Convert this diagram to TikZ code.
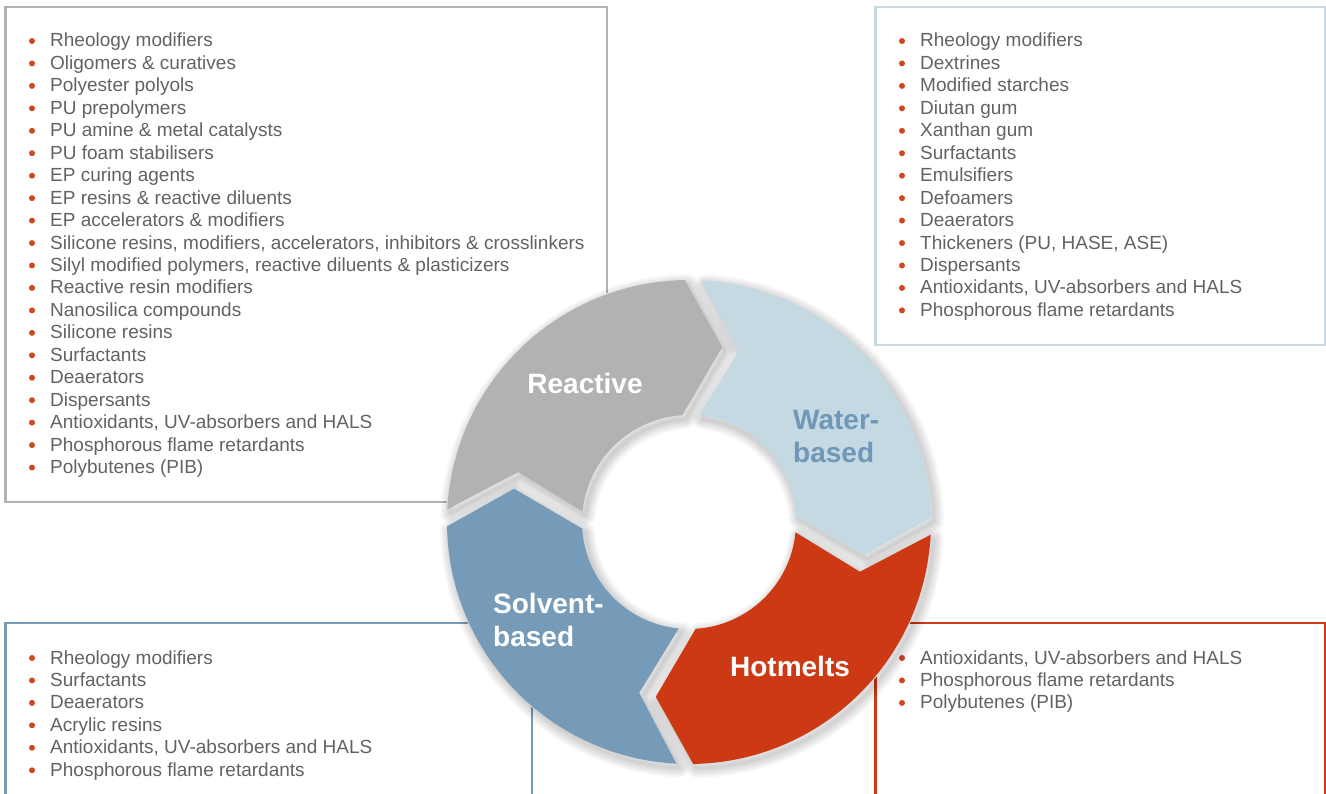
\documentclass[tikz,border=0pt]{standalone}
\usepackage{xcolor}
\usepackage{fontspec}
\setmainfont{Liberation Sans}
\usepackage{tikz}

% one ring segment, tail at angle #1, head 90 degrees further clockwise
\newcommand{\ringseg}[1]{({#1-2.01}:242) arc[start angle={#1-2.01}, end angle={#1-87.99}, radius=242]
  -- ({#1-99.76}:178) -- ({#1-85.45}:107)
  arc[start angle={#1-85.45}, end angle={#1-4.55}, radius=107]
  -- ({#1-15.24}:178) -- cycle}

\begin{document}
\begin{tikzpicture}[x=1pt, y=-1pt, font=\fontsize{19}{22.45}\selectfont,
  item/.style={anchor=base west, inner sep=0pt, text=txtGray},
  dot/.style={circle, fill=dotRed, inner sep=0pt, minimum size=6pt},
  tag/.style={font=\fontsize{28}{33}\selectfont\bfseries, inner sep=0pt, align=left, text=white},
  listbox/.style={line width=2.6pt}]

\definecolor{reactGray}{HTML}{B1B2B4}
\definecolor{waterBlue}{HTML}{C5D9E3}
\definecolor{solvBlue}{HTML}{769BB8}
\definecolor{hotRed}{HTML}{CC3914}
\definecolor{labelBlue}{HTML}{6F97B8}
\definecolor{txtGray}{HTML}{626262}
\definecolor{dotRed}{HTML}{D0461E}

\useasboundingbox (0,0) rectangle (1326,794);

% boxes
\draw[listbox, reactGray] (5.5,7) rectangle (607,502);
\draw[listbox, waterBlue] (875.5,7) rectangle (1325,345);
\draw[listbox, solvBlue]  (5.5,623) rectangle (532,830);
\draw[listbox, hotRed]    (875.5,623) rectangle (1325,830);

% ===== Reactive list =====
\foreach \t [count=\i] in {Rheology modifiers, Oligomers \& curatives, Polyester polyols,
  PU prepolymers, PU amine \& metal catalysts, PU foam stabilisers, EP curing agents,
  EP resins \& reactive diluents, EP accelerators \& modifiers,
  {Silicone resins, modifiers, accelerators, inhibitors \& crosslinkers},
  {Silyl modified polymers, reactive diluents \& plasticizers}, Reactive resin modifiers,
  Nanosilica compounds, Silicone resins, Surfactants, Deaerators, Dispersants,
  {Antioxidants, UV-absorbers and HALS}, Phosphorous flame retardants, Polybutenes (PIB)}
{
  \node[item] (react\i) at (50, {47+(\i-1)*22.45}) {\t};
  \node[dot] (reactdot\i) at (32, {41+(\i-1)*22.45}) {};
}

% ===== Water-based list =====
\foreach \t [count=\i] in {Rheology modifiers, Dextrines, Modified starches, Diutan gum,
  Xanthan gum, Surfactants, Emulsifiers, Defoamers, Deaerators,
  {Thickeners (PU, HASE, ASE)}, Dispersants, {Antioxidants, UV-absorbers and HALS},
  Phosphorous flame retardants}
{
  \node[item] (water\i) at (920, {47+(\i-1)*22.45}) {\t};
  \node[dot] (waterdot\i) at (902, {41+(\i-1)*22.45}) {};
}

% ===== Solvent-based list =====
\foreach \t [count=\i] in {Rheology modifiers, Surfactants, Deaerators, Acrylic resins,
  {Antioxidants, UV-absorbers and HALS}, Phosphorous flame retardants}
{
  \node[item] (solv\i) at (50, {664+(\i-1)*22.45}) {\t};
  \node[dot] (solvdot\i) at (32, {658+(\i-1)*22.45}) {};
}

% ===== Hotmelts list =====
\foreach \t [count=\i] in {{Antioxidants, UV-absorbers and HALS},
  Phosphorous flame retardants, Polybutenes (PIB)}
{
  \node[item] (hot\i) at (920, {664+(\i-1)*22.45}) {\t};
  \node[dot] (hotdot\i) at (902, {658+(\i-1)*22.45}) {};
}

% ===== ring =====
\begin{scope}[shift={(689,522)}, yscale=-1]
  \fill[white] (0,0) circle (243);
  % soft shadow
  \foreach \s in {179,89,-1,-91}
    \foreach \w in {2,5,8,11,14,17,20}
      \draw[black, opacity=0.028, line width=\w pt, line join=round, shift={(3,-4)}] \ringseg{\s};
  % segments
  \foreach \s/\col in {179/reactGray, 89/waterBlue, -1/hotRed, -91/solvBlue}
    \fill[\col] \ringseg{\s};
\end{scope}

% labels
\node[tag] (reactive) at (585,383) {Reactive};
\node[tag, text=labelBlue, anchor=west] (water) at (793,437) {Water-\\based};
\node[tag, anchor=west] (solvent) at (493,620) {Solvent-\\based};
\node[tag] (hotmelts) at (790,666) {Hotmelts};

\end{tikzpicture}
\end{document}
